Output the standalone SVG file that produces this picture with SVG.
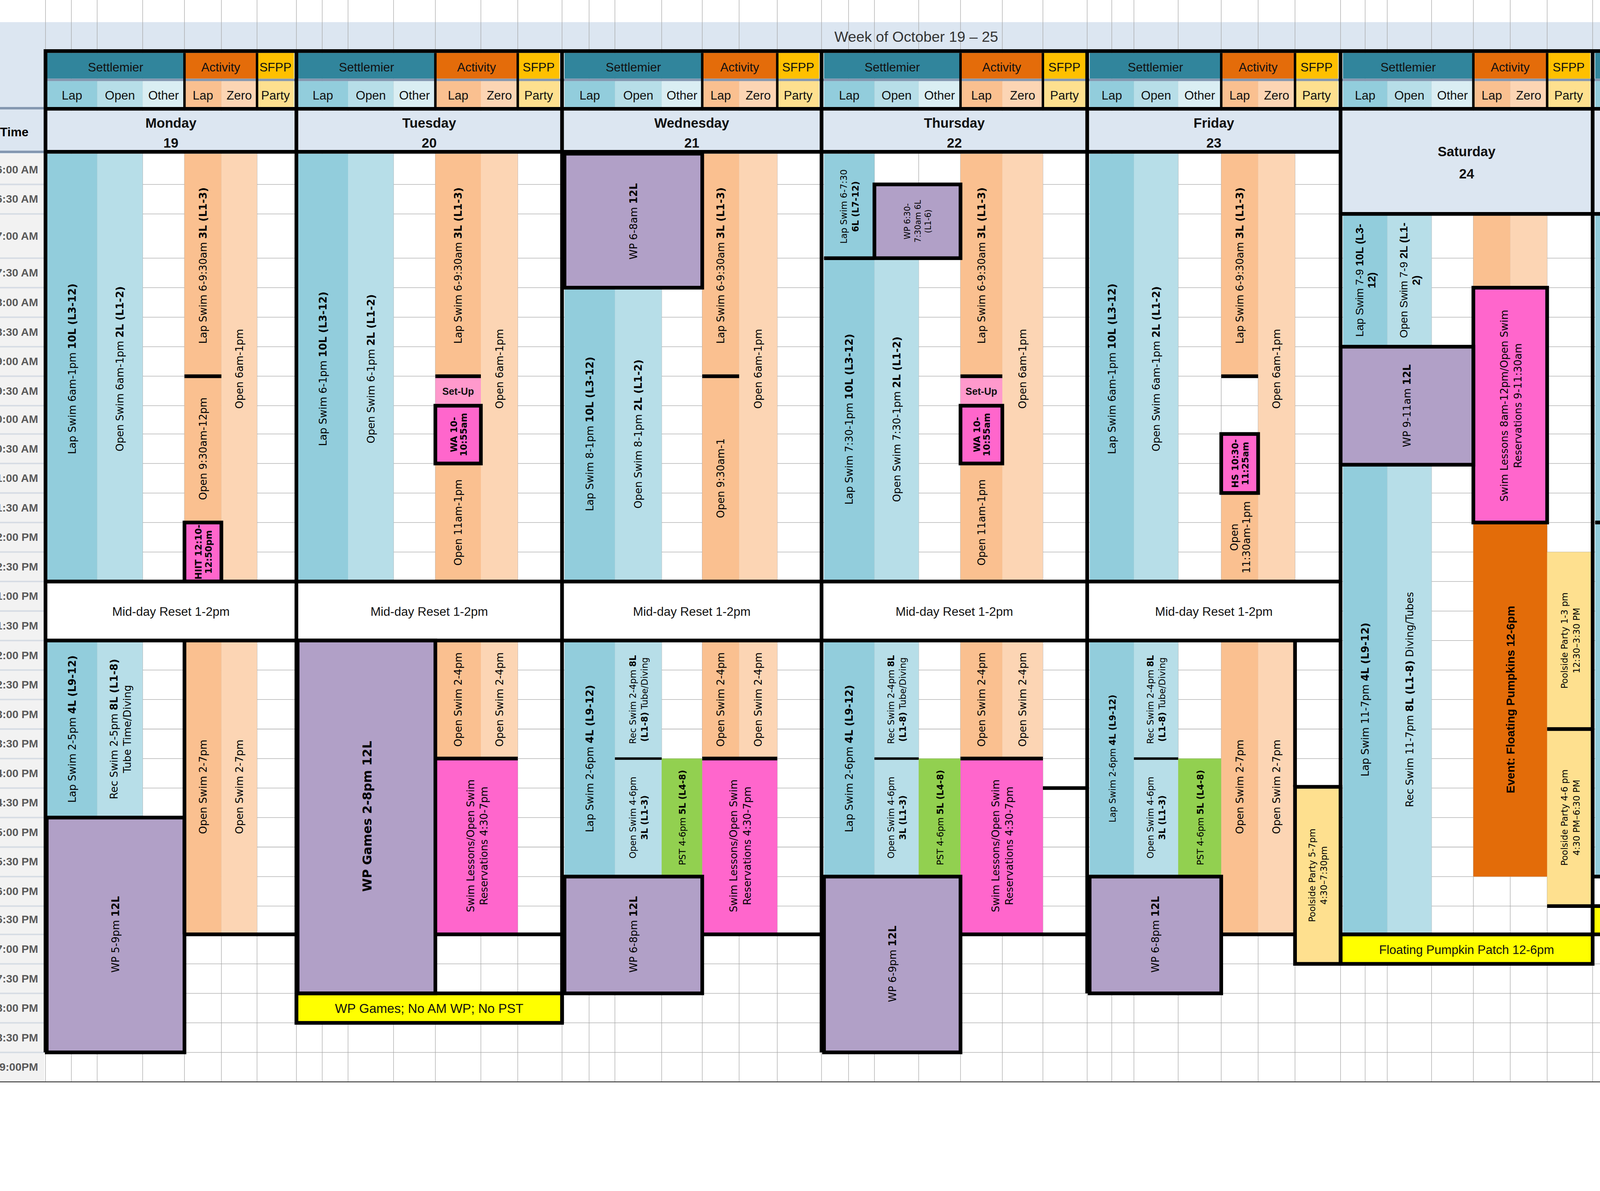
<svg xmlns="http://www.w3.org/2000/svg" width="4880" height="3050" viewBox="0 0 4880 3050">
<style>
.v{font-family:"DejaVu Sans",Verdana,sans-serif;font-size:8.3px;fill:#000}
.s{font-size:7.2px}
.c{font-family:"Liberation Sans",Arial,sans-serif;fill:#000}
.b{font-weight:bold}
.bl{stroke:#000;stroke-width:3;fill:none}
.g{stroke:#a6a6a6;stroke-width:0.4;fill:none}
.lap{fill:#92cddc}.opn{fill:#b7dee8}.oth{fill:#daeef3}.al{fill:#fac090}.ze{fill:#fcd5b4}.pa{fill:#fee08f}
.wp{fill:#b1a0c7}.pk{fill:#ff66cc}.su{fill:#ff99cc}.gr{fill:#92d050}.ye{fill:#ffff00}.do{fill:#e36c09}.hd{fill:#dce6f1}
.teal{fill:#31859c}.act{fill:#e46c0a}.gold{fill:#ffc000}
.h1{font-family:"Liberation Sans",Arial,sans-serif;font-size:10px;text-anchor:middle;fill:#111}
.t{font-family:"Liberation Sans",Arial,sans-serif;font-size:9px;font-weight:bold;fill:#595959;text-anchor:end}
</style>
<rect width="4880" height="3050" fill="#fff"/>
<g transform="scale(3.1484)">
<g id="background">
<rect x="0" y="18" width="1500" height="22" class="hd"/>
<rect x="0" y="40" width="37" height="85" class="hd"/>
<rect x="0" y="125" width="36" height="755" fill="#f2f2f2"/>
<path class="g" d="M37 0V880M58 0V880M79 0V880M116 0V880M150 0V880M180 0V880M209 0V880M241 0V880M262 0V880M283 0V880M320 0V880M354 0V880M391 0V880M421 0V880M457 0V880M479 0V880M500 0V880M538 0V880M571 0V880M601 0V880M632 0V880M668 0V880M690 0V880M711 0V880M747 0V880M781 0V880M815 0V880M848 0V880M884 0V880M904 0V880M922 0V880M958 0V880M993 0V880M1023 0V880M1053 0V880M1090 0V880M1110 0V880M1128 0V880M1164 0V880M1198 0V880M1228 0V880M1258 0V880M1295 0V880M1314 0V880M1332 0V880M1368 0V880M1402 0V880M1432 0V880M1463 0V880M1500 0V880"/>
<path class="g" d="M37 150H1500M37 174H1500M37 210H1500M37 234H1500M37 258H1500M37 282H1500M37 306H1500M37 330H1500M37 353H1500M37 377H1500M37 401H1500M37 425H1500M37 449H1500M37 473H1500M37 497H1500M37 521H1500M37 545H1500M37 569H1500M37 593H1500M37 617H1500M37 641H1500M37 665H1500M37 689H1500M37 713H1500M37 737H1500M37 760H1500M37 784H1500M37 808H1500M37 832H1500M37 856H1500"/>
<path d="M0 880H1500" stroke="#404040" stroke-width="0.8"/>
<path d="M0 150H36M0 174H36M0 210H36M0 234H36M0 258H36M0 282H36M0 306H36M0 330H36M0 353H36M0 377H36M0 401H36M0 425H36M0 449H36M0 473H36M0 497H36M0 521H36M0 545H36M0 569H36M0 593H36M0 617H36M0 641H36M0 665H36M0 689H36M0 713H36M0 737H36M0 760H36M0 784H36M0 808H36M0 832H36M0 856H36" stroke="#d6dce4" stroke-width="1.2"/>
<path d="M0 88H37M0 123.5H37" stroke="#8497b0" stroke-width="2"/>
<text x="745" y="34" class="h1" style="font-size:12px;fill:#333">Week of October 19 – 25</text>
<text x="0" y="111" class="c b" style="font-size:10px">Time</text>
</g>
<g id="time-labels" class="t">
<text x="31" y="141">6:00 AM</text><text x="31" y="165">6:30 AM</text><text x="31" y="195">7:00 AM</text><text x="31" y="225">7:30 AM</text>
<text x="31" y="249">8:00 AM</text><text x="31" y="273">8:30 AM</text><text x="31" y="297">9:00 AM</text><text x="31" y="321">9:30 AM</text>
<text x="31" y="344">10:00 AM</text><text x="31" y="368">10:30 AM</text><text x="31" y="392">11:00 AM</text><text x="31" y="416">11:30 AM</text>
<text x="31" y="440">12:00 PM</text><text x="31" y="464">12:30 PM</text><text x="31" y="488">1:00 PM</text><text x="31" y="512">1:30 PM</text>
<text x="31" y="536">2:00 PM</text><text x="31" y="560">2:30 PM</text><text x="31" y="584">3:00 PM</text><text x="31" y="608">3:30 PM</text>
<text x="31" y="632">4:00 PM</text><text x="31" y="656">4:30 PM</text><text x="31" y="680">5:00 PM</text><text x="31" y="704">5:30 PM</text>
<text x="31" y="728">6:00 PM</text><text x="31" y="751">6:30 PM</text><text x="31" y="775">7:00 PM</text><text x="31" y="799">7:30 PM</text>
<text x="31" y="823">8:00 PM</text><text x="31" y="847">8:30 PM</text><text x="31" y="871">9:00PM</text>
</g>
<g id="headers">
<rect x="38" y="43" width="112" height="21" class="teal"/><rect x="150" y="43" width="59" height="21" class="act"/><rect x="209" y="43" width="30" height="21" class="gold"/>
<rect x="242" y="43" width="112" height="21" class="teal"/><rect x="354" y="43" width="67" height="21" class="act"/><rect x="421" y="43" width="34" height="21" class="gold"/>
<rect x="459" y="43" width="112" height="21" class="teal"/><rect x="571" y="43" width="61" height="21" class="act"/><rect x="632" y="43" width="34" height="21" class="gold"/>
<rect x="670" y="43" width="111" height="21" class="teal"/><rect x="781" y="43" width="67" height="21" class="act"/><rect x="848" y="43" width="35" height="21" class="gold"/>
<rect x="886" y="43" width="107" height="21" class="teal"/><rect x="993" y="43" width="60" height="21" class="act"/><rect x="1053" y="43" width="35" height="21" class="gold"/>
<rect x="1092" y="43" width="106" height="21" class="teal"/><rect x="1198" y="43" width="60" height="21" class="act"/><rect x="1258" y="43" width="35" height="21" class="gold"/>
<rect x="1297" y="43" width="105" height="21" class="teal"/><rect x="1402" y="43" width="61" height="21" class="act"/><rect x="1463" y="43" width="35" height="21" class="gold"/>
<rect x="37" y="64" width="1463" height="2" fill="#8497b0"/>
<g>
<rect x="38" y="66" width="41" height="21" class="lap"/><rect x="79" y="66" width="37" height="21" class="opn"/><rect x="116" y="66" width="34" height="21" class="oth"/><rect x="150" y="66" width="30" height="21" class="al"/><rect x="180" y="66" width="29" height="21" class="ze"/><rect x="209" y="66" width="30" height="21" class="pa"/>
<rect x="242" y="66" width="41" height="21" class="lap"/><rect x="283" y="66" width="37" height="21" class="opn"/><rect x="320" y="66" width="34" height="21" class="oth"/><rect x="354" y="66" width="37" height="21" class="al"/><rect x="391" y="66" width="30" height="21" class="ze"/><rect x="421" y="66" width="34" height="21" class="pa"/>
<rect x="459" y="66" width="41" height="21" class="lap"/><rect x="500" y="66" width="38" height="21" class="opn"/><rect x="538" y="66" width="33" height="21" class="oth"/><rect x="571" y="66" width="30" height="21" class="al"/><rect x="601" y="66" width="31" height="21" class="ze"/><rect x="632" y="66" width="34" height="21" class="pa"/>
<rect x="670" y="66" width="41" height="21" class="lap"/><rect x="711" y="66" width="36" height="21" class="opn"/><rect x="747" y="66" width="34" height="21" class="oth"/><rect x="781" y="66" width="34" height="21" class="al"/><rect x="815" y="66" width="33" height="21" class="ze"/><rect x="848" y="66" width="35" height="21" class="pa"/>
<rect x="886" y="66" width="36" height="21" class="lap"/><rect x="922" y="66" width="36" height="21" class="opn"/><rect x="958" y="66" width="35" height="21" class="oth"/><rect x="993" y="66" width="30" height="21" class="al"/><rect x="1023" y="66" width="30" height="21" class="ze"/><rect x="1053" y="66" width="35" height="21" class="pa"/>
<rect x="1092" y="66" width="36" height="21" class="lap"/><rect x="1128" y="66" width="36" height="21" class="opn"/><rect x="1164" y="66" width="34" height="21" class="oth"/><rect x="1198" y="66" width="30" height="21" class="al"/><rect x="1228" y="66" width="30" height="21" class="ze"/><rect x="1258" y="66" width="35" height="21" class="pa"/>
<rect x="1297" y="66" width="35" height="21" class="lap"/><rect x="1332" y="66" width="36" height="21" class="opn"/><rect x="1368" y="66" width="34" height="21" class="oth"/><rect x="1402" y="66" width="30" height="21" class="al"/><rect x="1432" y="66" width="31" height="21" class="ze"/><rect x="1463" y="66" width="35" height="21" class="pa"/>
</g>
<g class="h1">
<text x="94" y="58">Settlemier</text><text x="179.5" y="58">Activity</text><text x="224" y="58">SFPP</text>
<text x="298" y="58">Settlemier</text><text x="387.5" y="58">Activity</text><text x="438" y="58">SFPP</text>
<text x="515" y="58">Settlemier</text><text x="601.5" y="58">Activity</text><text x="649" y="58">SFPP</text>
<text x="725.5" y="58">Settlemier</text><text x="814.5" y="58">Activity</text><text x="865.5" y="58">SFPP</text>
<text x="939.5" y="58">Settlemier</text><text x="1023" y="58">Activity</text><text x="1070.5" y="58">SFPP</text>
<text x="1145" y="58">Settlemier</text><text x="1228" y="58">Activity</text><text x="1275.5" y="58">SFPP</text>
<text x="1349.5" y="58">Settlemier</text><text x="1432.5" y="58">Activity</text><text x="1480.5" y="58">SFPP</text>
<text x="58.5" y="81">Lap</text><text x="97.5" y="81">Open</text><text x="133" y="81">Other</text><text x="165" y="81">Lap</text><text x="194.5" y="81">Zero</text><text x="224" y="81">Party</text>
<text x="262.5" y="81">Lap</text><text x="301.5" y="81">Open</text><text x="337" y="81">Other</text><text x="372.5" y="81">Lap</text><text x="406" y="81">Zero</text><text x="438" y="81">Party</text>
<text x="479.5" y="81">Lap</text><text x="519" y="81">Open</text><text x="554.5" y="81">Other</text><text x="586" y="81">Lap</text><text x="616.5" y="81">Zero</text><text x="649" y="81">Party</text>
<text x="690.5" y="81">Lap</text><text x="729" y="81">Open</text><text x="764" y="81">Other</text><text x="798" y="81">Lap</text><text x="831.5" y="81">Zero</text><text x="865.5" y="81">Party</text>
<text x="904" y="81">Lap</text><text x="940" y="81">Open</text><text x="975.5" y="81">Other</text><text x="1008" y="81">Lap</text><text x="1038" y="81">Zero</text><text x="1070.5" y="81">Party</text>
<text x="1110" y="81">Lap</text><text x="1146" y="81">Open</text><text x="1181" y="81">Other</text><text x="1213" y="81">Lap</text><text x="1243" y="81">Zero</text><text x="1275.5" y="81">Party</text>
<text x="1314.5" y="81">Lap</text><text x="1350" y="81">Open</text><text x="1385" y="81">Other</text><text x="1417" y="81">Lap</text><text x="1447.5" y="81">Zero</text><text x="1480.5" y="81">Party</text>
</g>
<rect x="37" y="90" width="204" height="33" class="hd"/><rect x="241" y="90" width="216" height="33" class="hd"/><rect x="457" y="90" width="211" height="33" class="hd"/><rect x="668" y="90" width="216" height="33" class="hd"/><rect x="884" y="90" width="206" height="33" class="hd"/>
<rect x="1090" y="90" width="205" height="84" class="hd"/><rect x="1295" y="90" width="205" height="84" class="hd"/>
<g class="h1 b" style="font-size:11px">
<text x="139" y="104">Monday</text><text x="139" y="120">19</text>
<text x="349" y="104">Tuesday</text><text x="349" y="120">20</text>
<text x="562.5" y="104">Wednesday</text><text x="562.5" y="120">21</text>
<text x="776" y="104">Thursday</text><text x="776" y="120">22</text>
<text x="987" y="104">Friday</text><text x="987" y="120">23</text>
<text x="1192.5" y="127">Saturday</text><text x="1192.5" y="145">24</text>
<text x="1397.5" y="127">Sunday</text><text x="1397.5" y="145">25</text>
</g>
</g>

<g id="monday">
<rect x="38" y="125" width="41" height="348" class="lap"/><rect x="79" y="125" width="37" height="348" class="opn"/>
<rect x="150" y="125" width="30" height="300" class="al"/><rect x="180" y="125" width="29" height="348" class="ze"/>
<rect x="150" y="425" width="30" height="48" class="pk"/>
<rect x="37" y="473" width="204" height="48" fill="#fff"/>
<rect x="38" y="521" width="41" height="144" class="lap"/><rect x="79" y="521" width="37" height="144" class="opn"/>
<rect x="150" y="521" width="30" height="239" class="al"/><rect x="180" y="521" width="29" height="239" class="ze"/>
<rect x="38" y="665" width="112" height="191" class="wp"/>
<g class="v">
<text transform="translate(58.5,300) rotate(-90)" text-anchor="middle" dy="3">Lap Swim 6am-1pm <tspan class="b">10L (L3-12)</tspan></text>
<text transform="translate(97.5,300) rotate(-90)" text-anchor="middle" dy="3">Open Swim 6am-1pm <tspan class="b">2L (L1-2)</tspan></text>
<text transform="translate(165,216) rotate(-90)" text-anchor="middle" dy="3">Lap Swim 6-9:30am  <tspan class="b">3L (L1-3)</tspan></text>
<text transform="translate(165,365) rotate(-90)" text-anchor="middle" dy="3">Open 9:30am-12pm</text>
<text transform="translate(194.5,300) rotate(-90)" text-anchor="middle" dy="3">Open 6am-1pm</text>
<text transform="translate(165,449) rotate(-90)" text-anchor="middle" class="v s b"><tspan x="0" dy="-1">HIIT 12:10-</tspan><tspan x="0" dy="8">12:50pm</tspan></text>
<text transform="translate(58.5,593) rotate(-90)" text-anchor="middle" dy="3">Lap Swim 2-5pm  <tspan class="b">4L (L9-12)</tspan></text>
<text transform="translate(97.5,593) rotate(-90)" text-anchor="middle"><tspan x="0" dy="-2">Rec Swim 2-5pm <tspan class="b">8L (L1-8)</tspan></tspan><tspan x="0" dy="11">Tube Time/Diving</tspan></text>
<text transform="translate(165,640) rotate(-90)" text-anchor="middle" dy="3">Open Swim 2-7pm</text>
<text transform="translate(194.5,640) rotate(-90)" text-anchor="middle" dy="3">Open Swim 2-7pm</text>
<text transform="translate(94,760) rotate(-90)" text-anchor="middle" dy="3">WP 5-9pm  <tspan class="b">12L</tspan></text>
</g>
<text x="139" y="501" class="h1">Mid-day Reset 1-2pm</text>
</g>

<g id="tuesday">
<rect x="242" y="125" width="41" height="348" class="lap"/><rect x="283" y="125" width="37" height="348" class="opn"/>
<rect x="354" y="125" width="37" height="181" class="al"/><rect x="354" y="306" width="37" height="24" class="su"/><rect x="354" y="330" width="37" height="47" class="pk"/><rect x="354" y="377" width="37" height="96" class="al"/>
<rect x="391" y="125" width="30" height="348" class="ze"/>
<rect x="241" y="473" width="216" height="48" fill="#fff"/>
<rect x="242" y="521" width="112" height="287" class="wp"/>
<rect x="354" y="521" width="37" height="96" class="al"/><rect x="391" y="521" width="30" height="96" class="ze"/>
<rect x="354" y="617" width="67" height="143" class="pk"/>
<rect x="241" y="808" width="216" height="24" class="ye"/>
<g class="v">
<text transform="translate(262.5,300) rotate(-90)" text-anchor="middle" dy="3">Lap Swim 6-1pm <tspan class="b">10L (L3-12)</tspan></text>
<text transform="translate(301.5,300) rotate(-90)" text-anchor="middle" dy="3">Open Swim 6-1pm <tspan class="b">2L (L1-2)</tspan></text>
<text transform="translate(372.5,216) rotate(-90)" text-anchor="middle" dy="3">Lap Swim 6-9:30am  <tspan class="b">3L (L1-3)</tspan></text>
<text transform="translate(372.5,353.5) rotate(-90)" text-anchor="middle" class="v s b"><tspan x="0" dy="-1">WA 10-</tspan><tspan x="0" dy="8">10:55am</tspan></text>
<text transform="translate(372.5,425) rotate(-90)" text-anchor="middle" dy="3">Open 11am-1pm</text>
<text transform="translate(406,300) rotate(-90)" text-anchor="middle" dy="3">Open 6am-1pm</text>
<text transform="translate(298,664) rotate(-90)" text-anchor="middle" dy="4" class="v b" style="font-size:10px">WP Games 2-8pm  12L</text>
<text transform="translate(372.5,569) rotate(-90)" text-anchor="middle" dy="3">Open Swim 2-4pm</text>
<text transform="translate(406,569) rotate(-90)" text-anchor="middle" dy="3">Open Swim 2-4pm</text>
<text transform="translate(387.5,688) rotate(-90)" text-anchor="middle"><tspan x="0" dy="-2">Swim Lessons/Open Swim</tspan><tspan x="0" dy="11">Reservations 4:30-7pm</tspan></text>
</g>
<text x="372.5" y="321" class="h1 b" style="font-size:8px">Set-Up</text>
<text x="349" y="501" class="h1">Mid-day Reset 1-2pm</text>
<text x="349" y="824" class="h1" style="font-size:10.5px">WP Games; No AM WP; No PST</text>
</g>

<g id="wednesday">
<rect x="459" y="125" width="112" height="109" class="wp"/>
<rect x="459" y="234" width="41" height="239" class="lap"/><rect x="500" y="234" width="38" height="239" class="opn"/>
<rect x="571" y="125" width="30" height="348" class="al"/><rect x="601" y="125" width="31" height="348" class="ze"/>
<rect x="457" y="473" width="211" height="48" fill="#fff"/>
<rect x="459" y="521" width="41" height="192" class="lap"/><rect x="500" y="521" width="38" height="192" class="opn"/><rect x="538" y="617" width="33" height="96" class="gr"/>
<rect x="571" y="521" width="30" height="96" class="al"/><rect x="601" y="521" width="31" height="96" class="ze"/>
<rect x="571" y="617" width="61" height="143" class="pk"/>
<rect x="459" y="713" width="112" height="95" class="wp"/>
<g class="v">
<text transform="translate(515,180) rotate(-90)" text-anchor="middle" dy="3">WP 6-8am  <tspan class="b">12L</tspan></text>
<text transform="translate(479.5,353) rotate(-90)" text-anchor="middle" dy="3">Lap Swim 8-1pm <tspan class="b">10L (L3-12)</tspan></text>
<text transform="translate(519,353) rotate(-90)" text-anchor="middle" dy="3">Open Swim 8-1pm <tspan class="b">2L (L1-2)</tspan></text>
<text transform="translate(586,216) rotate(-90)" text-anchor="middle" dy="3">Lap Swim 6-9:30am  <tspan class="b">3L (L1-3)</tspan></text>
<text transform="translate(586,389) rotate(-90)" text-anchor="middle" dy="3">Open 9:30am-1</text>
<text transform="translate(616.5,300) rotate(-90)" text-anchor="middle" dy="3">Open 6am-1pm</text>
<text transform="translate(479.5,617) rotate(-90)" text-anchor="middle" dy="3">Lap Swim 2-6pm  <tspan class="b">4L (L9-12)</tspan></text>
<text transform="translate(519,569) rotate(-90)" text-anchor="middle" class="v s"><tspan x="0" dy="-2">Rec Swim 2-4pm <tspan class="b">8L</tspan></tspan><tspan x="0" dy="9.5"><tspan class="b">(L1-8)</tspan> Tube/Diving</tspan></text>
<text transform="translate(519,665) rotate(-90)" text-anchor="middle" class="v s"><tspan x="0" dy="-2">Open Swim 4-6pm</tspan><tspan x="0" dy="9.5" class="b">3L (L1-3)</tspan></text>
<text transform="translate(554.5,665) rotate(-90)" text-anchor="middle" dy="3" class="v s">PST 4-6pm  <tspan class="b">5L (L4-8)</tspan></text>
<text transform="translate(586,569) rotate(-90)" text-anchor="middle" dy="3">Open Swim 2-4pm</text>
<text transform="translate(616.5,569) rotate(-90)" text-anchor="middle" dy="3">Open Swim 2-4pm</text>
<text transform="translate(601.5,688) rotate(-90)" text-anchor="middle"><tspan x="0" dy="-2">Swim Lessons/Open Swim</tspan><tspan x="0" dy="11">Reservations 4:30-7pm</tspan></text>
<text transform="translate(515,760) rotate(-90)" text-anchor="middle" dy="3">WP 6-8pm  <tspan class="b">12L</tspan></text>
</g>
<text x="562.5" y="501" class="h1">Mid-day Reset 1-2pm</text>
</g>

<g id="thursday">
<rect x="670" y="125" width="41" height="85" class="lap"/>
<rect x="711" y="150" width="70" height="60" class="wp"/>
<rect x="670" y="210" width="41" height="263" class="lap"/><rect x="711" y="210" width="36" height="263" class="opn"/>
<rect x="781" y="125" width="34" height="181" class="al"/><rect x="781" y="306" width="34" height="24" class="su"/><rect x="781" y="330" width="34" height="47" class="pk"/><rect x="781" y="377" width="34" height="96" class="al"/>
<rect x="815" y="125" width="33" height="348" class="ze"/>
<rect x="668" y="473" width="216" height="48" fill="#fff"/>
<rect x="670" y="521" width="41" height="192" class="lap"/><rect x="711" y="521" width="36" height="192" class="opn"/><rect x="747" y="617" width="34" height="96" class="gr"/>
<rect x="781" y="521" width="34" height="96" class="al"/><rect x="815" y="521" width="33" height="96" class="ze"/>
<rect x="781" y="617" width="67" height="143" class="pk"/>
<rect x="670" y="713" width="111" height="143" class="wp"/>
<g class="v">
<text transform="translate(690.5,168) rotate(-90)" text-anchor="middle" class="v s"><tspan x="0" dy="-2">Lap Swim 6-7:30</tspan><tspan x="0" dy="9.5" class="b">6L (L7-12)</tspan></text>
<text transform="translate(746,180) rotate(-90)" text-anchor="middle" class="v" style="font-size:6.5px"><tspan x="0" dy="-6">WP 6:30-</tspan><tspan x="0" dy="8.5">7:30am  6L</tspan><tspan x="0" dy="8.5">(L1-6)</tspan></text>
<text transform="translate(690.5,341) rotate(-90)" text-anchor="middle" dy="3">Lap Swim 7:30-1pm <tspan class="b">10L (L3-12)</tspan></text>
<text transform="translate(729,341) rotate(-90)" text-anchor="middle" dy="3">Open Swim 7:30-1pm <tspan class="b">2L (L1-2)</tspan></text>
<text transform="translate(798,216) rotate(-90)" text-anchor="middle" dy="3">Lap Swim 6-9:30am  <tspan class="b">3L (L1-3)</tspan></text>
<text transform="translate(798,353.5) rotate(-90)" text-anchor="middle" class="v s b"><tspan x="0" dy="-1">WA 10-</tspan><tspan x="0" dy="8">10:55am</tspan></text>
<text transform="translate(798,425) rotate(-90)" text-anchor="middle" dy="3">Open 11am-1pm</text>
<text transform="translate(831.5,300) rotate(-90)" text-anchor="middle" dy="3">Open 6am-1pm</text>
<text transform="translate(690.5,617) rotate(-90)" text-anchor="middle" dy="3">Lap Swim 2-6pm  <tspan class="b">4L (L9-12)</tspan></text>
<text transform="translate(729,569) rotate(-90)" text-anchor="middle" class="v s"><tspan x="0" dy="-2">Rec Swim 2-4pm <tspan class="b">8L</tspan></tspan><tspan x="0" dy="9.5"><tspan class="b">(L1-8)</tspan> Tube/Diving</tspan></text>
<text transform="translate(729,665) rotate(-90)" text-anchor="middle" class="v s"><tspan x="0" dy="-2">Open Swim 4-6pm</tspan><tspan x="0" dy="9.5" class="b">3L (L1-3)</tspan></text>
<text transform="translate(764,665) rotate(-90)" text-anchor="middle" dy="3" class="v s">PST 4-6pm  <tspan class="b">5L (L4-8)</tspan></text>
<text transform="translate(798,569) rotate(-90)" text-anchor="middle" dy="3">Open Swim 2-4pm</text>
<text transform="translate(831.5,569) rotate(-90)" text-anchor="middle" dy="3">Open Swim 2-4pm</text>
<text transform="translate(814.5,688) rotate(-90)" text-anchor="middle"><tspan x="0" dy="-2">Swim Lessons/Open Swim</tspan><tspan x="0" dy="11">Reservations 4:30-7pm</tspan></text>
<text transform="translate(725.5,784) rotate(-90)" text-anchor="middle" dy="3">WP 6-9pm  <tspan class="b">12L</tspan></text>
</g>
<text x="798" y="321" class="h1 b" style="font-size:8px">Set-Up</text>
<text x="776" y="501" class="h1">Mid-day Reset 1-2pm</text>
</g>

<g id="friday">
<rect x="886" y="125" width="36" height="348" class="lap"/><rect x="922" y="125" width="36" height="348" class="opn"/>
<rect x="993" y="125" width="30" height="181" class="al"/><rect x="993" y="353" width="30" height="48" class="pk"/><rect x="993" y="401" width="30" height="72" class="al"/>
<rect x="1023" y="125" width="30" height="348" class="ze"/>
<rect x="884" y="473" width="206" height="48" fill="#fff"/>
<rect x="886" y="521" width="36" height="192" class="lap"/><rect x="922" y="521" width="36" height="192" class="opn"/><rect x="958" y="617" width="35" height="96" class="gr"/>
<rect x="993" y="521" width="30" height="239" class="al"/><rect x="1023" y="521" width="30" height="239" class="ze"/>
<rect x="1053" y="640" width="37" height="144" class="pa"/>
<rect x="886" y="713" width="107" height="95" class="wp"/>
<g class="v">
<text transform="translate(904,300) rotate(-90)" text-anchor="middle" dy="3">Lap Swim 6am-1pm <tspan class="b">10L (L3-12)</tspan></text>
<text transform="translate(940,300) rotate(-90)" text-anchor="middle" dy="3">Open Swim 6am-1pm <tspan class="b">2L (L1-2)</tspan></text>
<text transform="translate(1008,216) rotate(-90)" text-anchor="middle" dy="3">Lap Swim 6-9:30am  <tspan class="b">3L (L1-3)</tspan></text>
<text transform="translate(1008,377) rotate(-90)" text-anchor="middle" class="v s b"><tspan x="0" dy="-1">HS 10:30-</tspan><tspan x="0" dy="8">11:25am</tspan></text>
<text transform="translate(1008,437) rotate(-90)" text-anchor="middle"><tspan x="0" dy="-1.5">Open</tspan><tspan x="0" dy="10">11:30am-1pm</tspan></text>
<text transform="translate(1038,300) rotate(-90)" text-anchor="middle" dy="3">Open 6am-1pm</text>
<text transform="translate(904,617) rotate(-90)" text-anchor="middle" dy="3" class="v s">Lap Swim 2-6pm  <tspan class="b">4L (L9-12)</tspan></text>
<text transform="translate(940,569) rotate(-90)" text-anchor="middle" class="v s"><tspan x="0" dy="-2">Rec Swim 2-4pm <tspan class="b">8L</tspan></tspan><tspan x="0" dy="9.5"><tspan class="b">(L1-8)</tspan> Tube/Diving</tspan></text>
<text transform="translate(940,665) rotate(-90)" text-anchor="middle" class="v s"><tspan x="0" dy="-2">Open Swim 4-6pm</tspan><tspan x="0" dy="9.5" class="b">3L (L1-3)</tspan></text>
<text transform="translate(975.5,665) rotate(-90)" text-anchor="middle" dy="3" class="v s">PST 4-6pm  <tspan class="b">5L (L4-8)</tspan></text>
<text transform="translate(1008,640) rotate(-90)" text-anchor="middle" dy="3">Open Swim 2-7pm</text>
<text transform="translate(1038,640) rotate(-90)" text-anchor="middle" dy="3">Open Swim 2-7pm</text>
<text transform="translate(1071.5,712) rotate(-90)" text-anchor="middle" class="v s"><tspan x="0" dy="-2">Poolside Party 5-7pm</tspan><tspan x="0" dy="9.5">4:30–7:30pm</tspan></text>
<text transform="translate(939.5,760) rotate(-90)" text-anchor="middle" dy="3">WP 6-8pm  <tspan class="b">12L</tspan></text>
</g>
<text x="987" y="501" class="h1">Mid-day Reset 1-2pm</text>
</g>

<g id="saturday">
<rect x="1092" y="175" width="36" height="107" class="lap"/><rect x="1128" y="175" width="36" height="107" class="opn"/>
<rect x="1090" y="282" width="108" height="96" class="wp"/>
<rect x="1092" y="378" width="36" height="382" class="lap"/><rect x="1128" y="378" width="36" height="382" class="opn"/>
<rect x="1198" y="175" width="30" height="59" class="al"/><rect x="1228" y="175" width="30" height="59" class="ze"/>
<rect x="1198" y="234" width="60" height="191" class="pk"/>
<rect x="1198" y="425" width="60" height="288" class="do"/>
<rect x="1258" y="449" width="37" height="288" class="pa"/>
<rect x="1090" y="760" width="205" height="24" class="ye"/>
<g class="c" style="font-size:9px">
<text transform="translate(1110,228) rotate(-90)" text-anchor="middle"><tspan x="0" dy="-1.5">Lap Swim 7-9 <tspan class="b">10L (L3-</tspan></tspan><tspan x="0" dy="10" class="b">12)</tspan></text>
<text transform="translate(1146,228) rotate(-90)" text-anchor="middle"><tspan x="0" dy="-1.5">Open Swim 7-9 <tspan class="b">2L (L1-</tspan></tspan><tspan x="0" dy="10" class="b">2)</tspan></text>
</g>
<g class="v">
<text transform="translate(1144,330) rotate(-90)" text-anchor="middle" dy="3">WP 9-11am  <tspan class="b">12L</tspan></text>
<text transform="translate(1110,569) rotate(-90)" text-anchor="middle" dy="3">Lap Swim 11-7pm  <tspan class="b">4L (L9-12)</tspan></text>
<text transform="translate(1146,569) rotate(-90)" text-anchor="middle" dy="3">Rec Swim 11-7pm  <tspan class="b">8L  (L1-8)</tspan>  Diving/Tubes</text>
<text transform="translate(1228,330) rotate(-90)" text-anchor="middle"><tspan x="0" dy="-2">Swim Lessons 8am-12pm/Open Swim</tspan><tspan x="0" dy="11">Reservations 9-11:30am</tspan></text>
<text transform="translate(1276.5,521) rotate(-90)" text-anchor="middle" class="v s"><tspan x="0" dy="-2">Poolside Party 1-3 pm</tspan><tspan x="0" dy="10">12:30–3:30 PM</tspan></text>
<text transform="translate(1276.5,665) rotate(-90)" text-anchor="middle" class="v s"><tspan x="0" dy="-2">Poolside Party 4-6 pm</tspan><tspan x="0" dy="10">4:30 PM–6:30 PM</tspan></text>
</g>
<text transform="translate(1228,569) rotate(-90)" text-anchor="middle" dy="3.5" class="c b" style="font-size:9.5px">Event: Floating Pumpkins 12-6pm</text>
<text x="1192.5" y="776" class="h1" style="font-size:10px">Floating Pumpkin Patch 12-6pm</text>
</g>

<g id="sunday">
<rect x="1297" y="175" width="35" height="250" class="lap"/><rect x="1332" y="175" width="36" height="250" class="opn"/>
<rect x="1368" y="377" width="34" height="24" class="pk"/>
<rect x="1402" y="175" width="30" height="59" class="al"/><rect x="1432" y="175" width="31" height="59" class="ze"/>
<rect x="1402" y="234" width="61" height="191" class="pk"/>
<rect x="1297" y="425" width="35" height="288" class="lap"/><rect x="1332" y="425" width="36" height="288" class="opn"/>
<rect x="1402" y="425" width="30" height="288" class="al"/><rect x="1432" y="425" width="31" height="288" class="ze"/>
<rect x="1463" y="449" width="37" height="288" class="pa"/>
<rect x="1295" y="737" width="205" height="23" class="ye"/>
<g class="c" style="font-size:9.5px">
<text transform="translate(1314.5,300) rotate(-90)" text-anchor="middle" dy="3">Lap Swim 7am-12pm <tspan class="b">10L (L3-12)</tspan></text>
<text transform="translate(1350,300) rotate(-90)" text-anchor="middle" dy="3">Open Swim 7am-12pm <tspan class="b">2L (L1-2)</tspan></text>
<text transform="translate(1432.5,330) rotate(-90)" text-anchor="middle" style="font-size:9px"><tspan x="0" dy="-2">Swim Lessons 8am-12pm/Open Swim</tspan><tspan x="0" dy="11">Reservations 9-11:30am</tspan></text>
<text transform="translate(1417,569) rotate(-90)" text-anchor="middle" dy="3">Open Swim 12:00-6pm</text>
<text transform="translate(1447.5,569) rotate(-90)" text-anchor="middle" dy="3">Open Swim 12:00-6pm</text>
</g>
<g class="v">
<text x="1385" y="387" text-anchor="middle" style="font-size:5.5px"><tspan class="b">L1</tspan>- 11-</text>
<text x="1385" y="397" text-anchor="middle" style="font-size:5.5px">11:45</text>
<text transform="translate(1314.5,569) rotate(-90)" text-anchor="middle" dy="3">Lap Swim 12-6pm  <tspan class="b">4L (L9-12)</tspan></text>
<text transform="translate(1350,569) rotate(-90)" text-anchor="middle" dy="3">Rec Swim 12-6pm <tspan class="b">8L (L1-8)</tspan> Diving/Tubes</text>
<text transform="translate(1481.5,521) rotate(-90)" text-anchor="middle" class="v s"><tspan x="0" dy="-2">Poolside Party 1-3 pm</tspan><tspan x="0" dy="10">12:30–3:30 PM</tspan></text>
<text transform="translate(1481.5,665) rotate(-90)" text-anchor="middle" class="v s"><tspan x="0" dy="-2">Poolside Party 4-6 pm</tspan><tspan x="0" dy="10">4:30 PM–6:30 PM</tspan></text>
</g>
<text x="1397.5" y="752" class="c" text-anchor="middle" style="font-size:9.5px">Teen/Adult SL: Lane 1</text>
</g>

<g id="borders" class="bl">
<path d="M37 41.5H1500M37 88.5H1500M37 123.5H1090M1090 174H1500"/>
<path stroke-width="2" d="M150 43V88M209 43V88M354 43V88M421 43V88M571 43V88M632 43V88M781 43V88M848 43V88M993 43V88M1053 43V88M1198 43V88M1258 43V88M1402 43V88M1463 43V88"/>
<path d="M37 40V856M241 40V832M457 40V832M668 40V856M884 40V808M1090 40V784M1295 40V760M1500 40V760"/>
<path d="M37 473H1090M37 521H1090"/>
<path d="M150 306H180M150 521V760M150 760H241"/>
<rect x="150" y="425" width="30" height="48"/>
<rect x="38" y="665" width="112" height="191"/>
<path d="M354 306H391M354 617H421M354 760H457"/>
<rect x="354" y="330" width="37" height="47"/>
<rect x="242" y="521" width="112" height="287"/>
<rect x="241" y="808" width="216" height="24"/>
<rect x="459" y="125" width="112" height="109"/>
<path d="M571 306H601M571 617H632M571 760H668"/>
<path stroke-width="2" d="M500 617H538"/>
<rect x="459" y="713" width="112" height="95"/>
<path d="M670 210H711M781 306H815M781 617H848M848 641H884M781 760H884"/>
<path stroke-width="2" d="M711 617H747"/>
<rect x="711" y="150" width="70" height="60"/>
<rect x="781" y="330" width="34" height="47"/>
<rect x="670" y="713" width="111" height="143"/>
<path d="M993 306H1023M1053 521V640M993 760H1053"/>
<path stroke-width="2" d="M922 617H958"/>
<rect x="993" y="353" width="30" height="48"/>
<rect x="1053" y="640" width="37" height="144"/>
<rect x="886" y="713" width="107" height="95"/>
<rect x="1090" y="282" width="108" height="96"/>
<rect x="1198" y="234" width="60" height="191"/>
<path d="M1258 593H1295M1258 737H1295M1090 760H1295"/>
<rect x="1090" y="760" width="205" height="24"/>
<path d="M1297 425H1368M1368 377V401M1368 401H1402M1402 234H1463M1402 425H1463M1295 713H1463M1463 449V713M1463 449H1500M1463 593H1500M1463 737H1500"/>
<rect x="1295" y="737" width="205" height="23"/>
</g>
<path d="M1500 760V880" stroke="#404040" stroke-width="0.8"/>
</g>
</svg>
